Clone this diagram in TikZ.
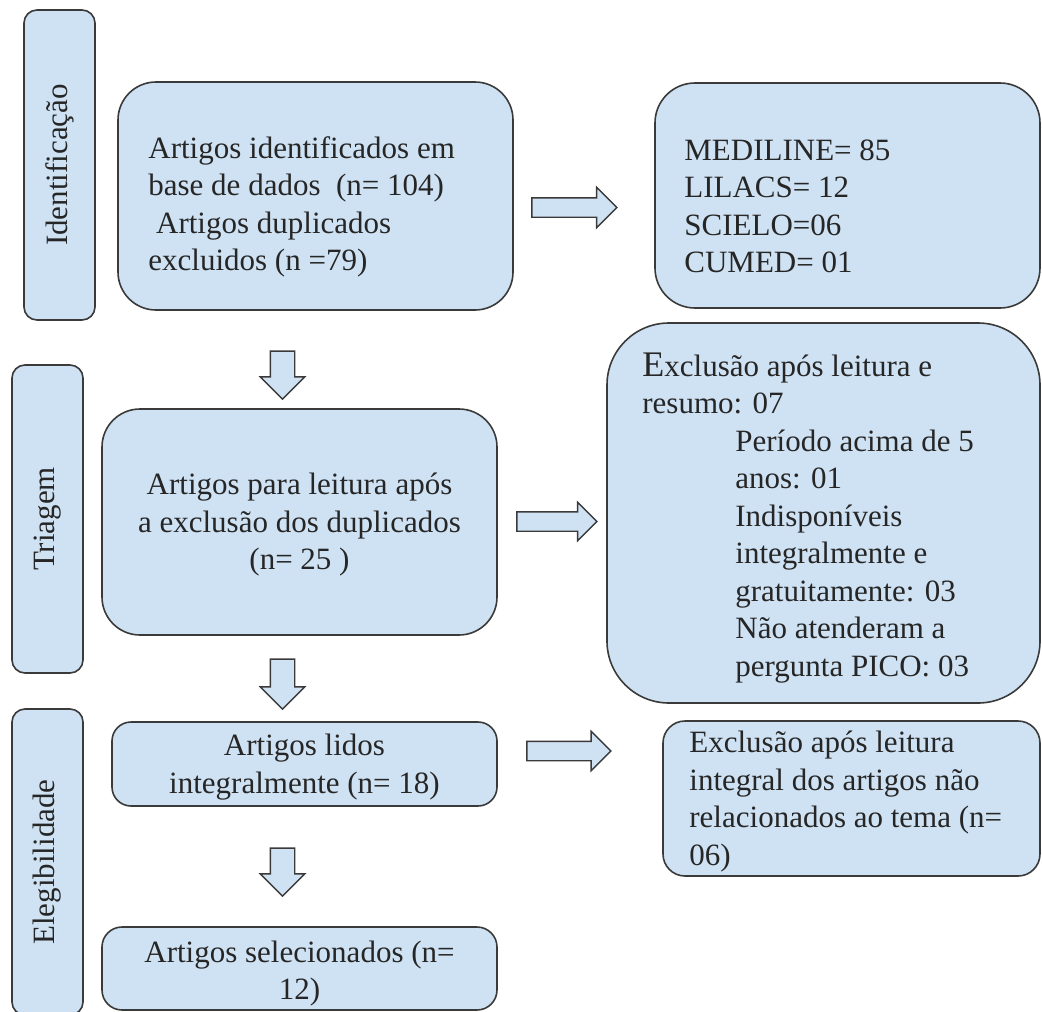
\documentclass[tikz,border=0pt]{standalone}
\usepackage{fontspec}
\setmainfont{Liberation Serif}
\usetikzlibrary{shapes.arrows}
\definecolor{boxfill}{HTML}{CFE2F3}
\definecolor{boxline}{HTML}{3A3A3A}
\begin{document}
\begin{tikzpicture}[x=1pt,y=-1pt,
  shapebox/.style={draw=boxline, fill=boxfill, line width=1.6pt, inner sep=0pt, rectangle},
  txt/.style={inner sep=0pt, font=\fontsize{31}{37.5}\selectfont, text=black!85},
  lbl/.style={shapebox, rounded corners=13pt, rotate=90, minimum height=71pt, font=\fontsize{31}{37.5}\selectfont, text=black!85},
  rarrow/.style={draw=boxline, fill=boxfill, line width=1.4pt, single arrow, inner xsep=0pt, inner ysep=9pt}
]
\useasboundingbox (0,0) rectangle (1042,1012);

% stage labels
\node[lbl, minimum width=310pt] (lid) at (59.5,165) {Identificação};
\node[lbl, minimum width=308pt] (ltr) at (47.5,519) {Triagem};
\node[lbl, minimum width=306pt] (lel) at (47.5,862) {Elegibilidade};

% main boxes
\node[shapebox, rounded corners=38pt, minimum width=395pt, minimum height=228pt] (b1) at (315.5,196) {};
\node[txt, anchor=west, align=left] (t1) at ([xshift=31pt,yshift=-11pt]b1.west)
  {Artigos identificados em\\ base de dados\ \ (n= 104)\\ \ Artigos duplicados\\ excluidos (n =79)};

\node[shapebox, rounded corners=40pt, minimum width=385pt, minimum height=225pt] (b1r) at (847.5,195.5) {};
\node[txt, anchor=west, align=left] (t1r) at ([xshift=30pt,yshift=-11pt]b1r.west)
  {MEDILINE= 85\\ LILACS= 12\\ SCIELO=06\\ CUMED= 01};

\node[shapebox, rounded corners=38pt, minimum width=395pt, minimum height=226pt] (b2) at (299.5,522) {};
\node[txt, align=center] (t2) at ([yshift=-3pt]b2.center)
  {Artigos para leitura após\\ a exclusão dos duplicados\\ (n= 25 )};

\node[shapebox, rounded corners=62pt, minimum width=433pt, minimum height=380pt] (b2r) at (823.5,513) {};
\node[txt, anchor=west, align=left] (t2r) at ([xshift=36pt,yshift=-5pt]b2r.west)
  {{\fontsize{36}{37.5}\selectfont E}xclusão após leitura e\\ resumo: 07\\
   \hspace*{93pt}Período acima de 5\\ \hspace*{93pt}anos: 01\\
   \hspace*{93pt}Indisponíveis\\ \hspace*{93pt}integralmente e\\
   \hspace*{93pt}gratuitamente: 03\\ \hspace*{93pt}Não atenderam a\\
   \hspace*{93pt}pergunta PICO: 03};

\node[shapebox, rounded corners=19pt, minimum width=385pt, minimum height=84pt] (b3) at (304.5,764) {};
\node[txt, align=center] (t3) at ([yshift=-3pt]b3.center)
  {Artigos lidos\\ integralmente (n= 18)};

\node[shapebox, rounded corners=22pt, minimum width=377pt, minimum height=155pt] (b3r) at (851.5,798.5) {};
\node[txt, anchor=west, align=left] (t3r) at ([xshift=27pt,yshift=-3pt]b3r.west)
  {Exclusão após leitura\\ integral dos artigos não\\ relacionados ao tema (n=\\ 06)};

\node[shapebox, rounded corners=20pt, minimum width=395pt, minimum height=83pt] (b4) at (299.5,968.5) {};
\node[txt, align=center] (t4) at ([yshift=-5pt]b4.center)
  {Artigos selecionados (n=\\ 12)};

% block arrows
\node[rarrow, minimum height=85pt, single arrow head extend=10.5pt] (a1) at (569.5,207.5) {};
\node[rarrow, minimum height=80pt, single arrow head extend=9.5pt] (a2) at (552,521.5) {};
\node[rarrow, minimum height=84pt, single arrow head extend=10pt] (a3) at (564,751) {};
\node[rarrow, rotate=-90, inner ysep=11.5pt, minimum height=48pt, single arrow head extend=10pt] (d1) at (282.5,369) {};
\node[rarrow, rotate=-90, inner ysep=11.5pt, minimum height=50pt, single arrow head extend=10pt] (d2) at (282.5,678) {};
\node[rarrow, rotate=-90, inner ysep=11.5pt, minimum height=48pt, single arrow head extend=10pt] (d3) at (282.5,866) {};
\end{tikzpicture}
\end{document}
